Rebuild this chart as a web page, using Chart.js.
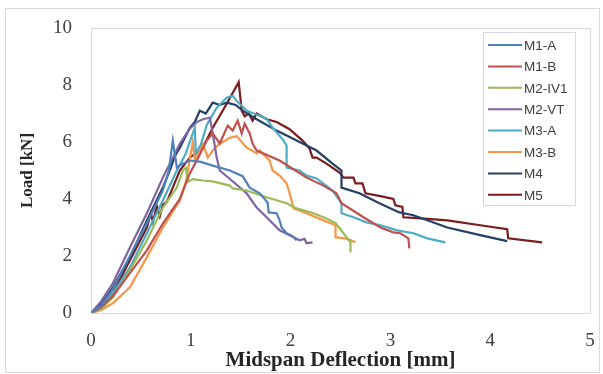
<!DOCTYPE html>
<html>
<head>
<meta charset="utf-8">
<script src="https://cdn.jsdelivr.net/npm/chart.js@4.4.1/dist/chart.umd.min.js"></script>
<style>
  html, body { margin: 0; padding: 0; background: #fff; }
  #wrap { width: 603px; height: 374px; }
</style>
</head>
<body>
<div id="wrap"><canvas id="chart" width="603" height="374"></canvas></div>
<script>
// Load vs. midspan deflection, one series per specimen
const seriesNames = ['M1-A', 'M1-B', 'M2-IV1', 'M2-VT', 'M3-A', 'M3-B', 'M4', 'M5'];
const seriesColors = ['#4F81BD', '#C0504D', '#9BBB59', '#8064A2', '#4BACC6', '#F79646', '#243F66', '#7A1C1C'];

const m1aX = [0, 0.1, 0.22, 0.39, 0.56, 0.72, 0.78, 0.82, 0.86, 0.9, 0.99, 1.1, 1.22, 1.39, 1.52, 1.59, 1.69, 1.77, 1.78, 1.86, 1.89, 1.91, 1.96, 2.02, 2.06];
const m1aY = [0, 0.25, 0.85, 2.0, 3.15, 4.3, 5.0, 6.05, 5.1, 5.2, 5.35, 5.3, 5.17, 5.0, 4.8, 4.4, 4.2, 3.88, 3.53, 3.5, 3.25, 3.0, 2.8, 2.7, 2.55];

const m1bX = [0, 0.1, 0.22, 0.39, 0.56, 0.72, 0.89, 0.99, 1.06, 1.16, 1.22, 1.29, 1.37, 1.42, 1.47, 1.51, 1.54, 1.59, 1.62, 1.66, 1.89, 2.16, 2.33, 2.46, 2.51, 2.73, 2.9, 3.03, 3.1, 3.18, 3.19];
const m1bY = [0, 0.2, 0.6, 1.4, 2.2, 3.14, 4.0, 4.9, 5.35, 6.05, 6.3, 5.95, 6.57, 6.4, 6.75, 6.3, 6.64, 6.3, 5.94, 5.7, 5.35, 4.75, 4.47, 4.2, 3.85, 3.36, 3.0, 2.83, 2.8, 2.62, 2.27];

const m2iv1X = [0, 0.1, 0.22, 0.39, 0.56, 0.72, 0.86, 0.92, 0.95, 0.97, 1.02, 1.12, 1.22, 1.39, 1.42, 1.56, 1.76, 1.96, 2.06, 2.23, 2.36, 2.45, 2.53, 2.6, 2.6];
const m2iv1Y = [0, 0.15, 0.55, 1.5, 2.55, 3.7, 4.4, 5.0, 5.1, 4.6, 4.7, 4.65, 4.62, 4.47, 4.37, 4.3, 4.06, 3.85, 3.67, 3.5, 3.32, 3.15, 2.8, 2.48, 2.13];

const m2vtX = [0, 0.1, 0.22, 0.39, 0.56, 0.72, 0.89, 0.99, 1.06, 1.12, 1.19, 1.22, 1.26, 1.29, 1.46, 1.56, 1.66, 1.76, 1.89, 1.99, 2.09, 2.14, 2.16, 2.22];
const m2vtY = [0, 0.4, 1.05, 2.3, 3.5, 4.75, 5.94, 6.47, 6.7, 6.8, 6.85, 6.3, 5.45, 5.0, 4.5, 4.2, 3.7, 3.36, 2.9, 2.73, 2.55, 2.6, 2.45, 2.48];

const m3aX = [0, 0.1, 0.22, 0.39, 0.56, 0.72, 0.86, 0.95, 1.04, 1.05, 1.1, 1.16, 1.26, 1.36, 1.42, 1.47, 1.56, 1.76, 1.82, 1.93, 1.96, 1.96, 2.09, 2.16, 2.26, 2.42, 2.51, 2.51, 2.63, 2.76, 2.9, 3.07, 3.23, 3.37, 3.55];
const m3aY = [0, 0.2, 0.7, 1.6, 2.8, 3.95, 5.0, 5.6, 6.5, 5.6, 5.9, 6.6, 7.2, 7.55, 7.62, 7.4, 7.1, 6.82, 6.5, 6.05, 5.87, 5.1, 5.0, 4.82, 4.72, 4.3, 3.85, 3.5, 3.36, 3.18, 3.08, 2.9, 2.8, 2.62, 2.48];

const m3bX = [0, 0.1, 0.22, 0.39, 0.56, 0.72, 0.89, 0.95, 1.02, 1.04, 1.12, 1.17, 1.22, 1.29, 1.39, 1.46, 1.56, 1.66, 1.69, 1.79, 1.82, 1.89, 1.96, 1.99, 2.03, 2.16, 2.33, 2.45, 2.45, 2.57, 2.65];
const m3bY = [0, 0.1, 0.35, 0.9, 1.96, 3.0, 3.95, 4.6, 6.0, 5.35, 5.94, 5.45, 5.7, 5.94, 6.15, 6.2, 5.8, 5.6, 5.7, 5.35, 5.0, 4.82, 4.55, 4.2, 3.67, 3.5, 3.25, 3.08, 2.66, 2.6, 2.48];

const m4X = [0, 0.1, 0.22, 0.39, 0.56, 0.72, 0.8, 0.84, 0.89, 0.99, 1.04, 1.09, 1.15, 1.22, 1.29, 1.36, 1.45, 1.52, 1.66, 1.86, 2.06, 2.26, 2.42, 2.51, 2.51, 2.69, 2.89, 3.09, 3.23, 3.57, 3.9, 4.17];
const m4Y = [0, 0.3, 0.9, 1.96, 3.25, 4.4, 5.1, 5.5, 5.8, 6.5, 6.7, 7.1, 7.0, 7.38, 7.3, 7.38, 7.3, 7.1, 6.8, 6.4, 6.05, 5.7, 5.24, 5.0, 4.4, 4.2, 3.85, 3.53, 3.43, 3.0, 2.73, 2.52];

const m5X = [0, 0.1, 0.22, 0.39, 0.56, 0.6, 0.62, 0.66, 0.69, 0.72, 0.76, 0.89, 0.99, 1.12, 1.22, 1.36, 1.48, 1.51, 1.54, 1.58, 1.62, 1.66, 1.76, 1.86, 1.99, 2.12, 2.19, 2.22, 2.26, 2.36, 2.49, 2.53, 2.63, 2.65, 2.72, 2.75, 2.9, 3.03, 3.05, 3.12, 3.13, 3.27, 3.57, 3.9, 4.17, 4.18, 4.52];
const m5Y = [0, 0.25, 0.7, 1.85, 3.0, 3.5, 3.2, 3.75, 3.4, 3.8, 3.9, 5.0, 5.45, 5.8, 6.5, 7.34, 8.1, 7.1, 6.9, 7.0, 6.75, 7.0, 6.8, 6.7, 6.45, 6.05, 5.77, 5.45, 5.45, 5.24, 4.93, 4.75, 4.75, 4.55, 4.55, 4.2, 4.1, 4.0, 3.78, 3.72, 3.36, 3.33, 3.25, 3.08, 2.94, 2.62, 2.48];

const xTicks = [0, 1, 2, 3, 4, 5];
const yTicks = [0, 2, 4, 6, 8, 10];

const seriesX = [m1aX, m1bX, m2iv1X, m2vtX, m3aX, m3bX, m4X, m5X];
const seriesY = [m1aY, m1bY, m2iv1Y, m2vtY, m3aY, m3bY, m4Y, m5Y];

function toPoints(xs, ys) {
  const n = Math.min(xs.length, ys.length);
  const pts = [];
  for (let i = 0; i < n; i++) pts.push({ x: xs[i], y: ys[i] });
  return pts;
}

const datasets = seriesNames.map((name, i) => ({
  label: name,
  data: toPoints(seriesX[i], seriesY[i]),
  borderColor: seriesColors[i],
  backgroundColor: seriesColors[i],
  borderWidth: 2.2,
  pointRadius: 0,
  showLine: true,
  tension: 0,
  fill: false
}));

const GRAY = '#D9D9D9';

// outer frame and plot frame, drawn under the lines
const framePlugin = {
  id: 'frames',
  beforeDatasetsDraw(chart) {
    const { ctx, chartArea: a } = chart;
    ctx.save();
    ctx.strokeStyle = GRAY;
    ctx.lineWidth = 1;
    ctx.strokeRect(5.5, 8.5, 594, 364);
    ctx.strokeRect(Math.round(a.left) + 0.5, Math.round(a.top) + 0.5,
      Math.round(a.right - a.left), Math.round(a.bottom - a.top));
    ctx.restore();
  }
};

// boxed legend at the top right of the plot
const legendPlugin = {
  id: 'boxLegend',
  afterDatasetsDraw(chart) {
    const ctx = chart.ctx;
    const box = { x: 483, y: 32, w: 92, h: 173 };
    ctx.save();
    ctx.fillStyle = '#fff';
    ctx.fillRect(box.x, box.y, box.w, box.h);
    ctx.strokeStyle = GRAY;
    ctx.lineWidth = 1;
    ctx.strokeRect(box.x + 0.5, box.y + 0.5, box.w, box.h);
    ctx.font = '13.5px "Liberation Sans", Arial, sans-serif';
    ctx.textBaseline = 'middle';
    ctx.fillStyle = '#404040';
    chart.data.datasets.forEach((ds, i) => {
      const y = 45 + i * 21.4;
      ctx.strokeStyle = ds.borderColor;
      ctx.lineWidth = 2;
      ctx.beginPath();
      ctx.moveTo(488, y);
      ctx.lineTo(522, y);
      ctx.stroke();
      ctx.fillText(ds.label, 524, y + 1);
    });
    ctx.restore();
  }
};

const tickFont = { family: '"Liberation Serif", serif', size: 19 };
const xTitleFont = { family: '"Liberation Serif", serif', size: 21, weight: 'bold' };
const yTitleFont = { family: '"Liberation Serif", serif', size: 17, weight: 'bold' };

new Chart(document.getElementById('chart'), {
  type: 'scatter',
  data: { datasets },
  options: {
    responsive: false,
    animation: false,
    layout: { padding: { left: 0, top: 28, right: 13, bottom: 0 } },
    plugins: {
      legend: { display: false },
      tooltip: { enabled: false }
    },
    scales: {
      x: {
        type: 'linear',
        min: 0,
        max: 5,
        afterBuildTicks: s => { s.ticks = xTicks.map(v => ({ value: v })); },
        afterFit: s => { s.height = 61; s.paddingLeft = 0; s.paddingRight = 0; },
        ticks: { font: tickFont, color: '#404040', padding: 17 },
        grid: { display: false, drawTicks: false },
        border: { display: false },
        title: {
          display: true,
          text: 'Midspan Deflection [mm]',
          font: xTitleFont,
          color: '#262626',
          padding: { top: 0, bottom: 1 }
        }
      },
      y: {
        type: 'linear',
        min: 0,
        max: 10,
        afterBuildTicks: s => { s.ticks = yTicks.map(v => ({ value: v })); },
        afterFit: s => { s.width = 91; s.paddingTop = 0; s.paddingBottom = 0; },
        ticks: { font: tickFont, color: '#404040', padding: 19 },
        grid: { display: false, drawTicks: false },
        border: { display: false },
        title: {
          display: true,
          text: 'Load [kN]',
          font: yTitleFont,
          color: '#262626',
          padding: { top: 17, bottom: 0 }
        }
      }
    }
  },
  plugins: [framePlugin, legendPlugin]
});
</script>
</body>
</html>
